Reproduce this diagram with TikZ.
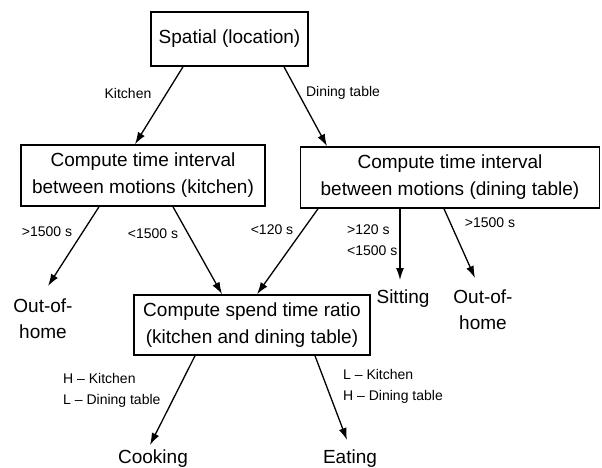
\documentclass[tikz,border=0pt]{standalone}
\usepackage{fontspec}
\setmainfont{Liberation Sans}
\usetikzlibrary{arrows.meta}
\begin{document}
\begin{tikzpicture}[x=1pt,y=-1pt,
  box/.style={draw,line width=1.6pt,align=center,font=\fontsize{19}{27}\selectfont,inner sep=0pt},
  arr/.style={line width=1.3pt,-{Latex[length=12pt,width=8pt]}},
  lbl/.style={font=\fontsize{14}{21}\selectfont,inner sep=0pt},
  res/.style={font=\fontsize{19}{26}\selectfont,inner sep=0pt,align=center,anchor=north}]
\useasboundingbox (0,0) rectangle (602,468);
% boxes
\node[box,minimum width=157pt,minimum height=54pt] (top) at (229.5,39) {Spatial (location)};
\node[box,minimum width=244pt,minimum height=61pt] (kit) at (143,175.5) {Compute time interval\\between motions (kitchen)};
\node[box,minimum width=299pt,minimum height=61pt] (din) at (450,177.5) {Compute time interval\\between motions (dining table)};
\node[box,minimum width=236pt,minimum height=60pt] (ratio) at (252,325) {Compute spend time ratio\\(kitchen and dining table)};
% results
\node[res] (out1) at (43,299) {Out-of-\\home};
\node[res] (sit) at (403,290) {Sitting};
\node[res] (out2) at (483,290) {Out-of-\\home};
\node[res] (cook) at (153,450) {Cooking};
\node[res] (eat) at (350,450) {Eating};
% labels
\node[lbl] (lk) at (128,93) {Kitchen};
\node[lbl] (ld) at (343,93) {Dining table};
\node[lbl] (l1) at (47,232) {>1500 s};
\node[lbl] (l2) at (153,234) {<1500 s};
\node[lbl] (l3) at (272,230) {<120 s};
\node[lbl,align=left,anchor=west] (l4) at (347,240.5) {>120 s\\<1500 s};
\node[lbl] (l5) at (490,223) {>1500 s};
\node[lbl,align=left,anchor=west] (l6) at (63,390) {H – Kitchen\\L – Dining table};
\node[lbl,align=left,anchor=west] (l7) at (343,386.5) {L – Kitchen\\H – Dining table};
% arrows
\draw[arr] ([xshift=-46.5pt]top.south) -- ([xshift=-8pt]kit.north);
\draw[arr] ([xshift=54.5pt]top.south) -- ([xshift=-123pt]din.north);
\draw[arr] ([xshift=-44pt]kit.south) -- ([xshift=5pt,yshift=13pt]out1.north);
\draw[arr] ([xshift=30pt]kit.south) -- ([xshift=-30pt]ratio.north);
\draw[arr] ([xshift=-132pt]din.south) -- ([xshift=5pt]ratio.north);
\draw[arr] ([xshift=-50pt]din.south) -- ([xshift=-3pt,yshift=10pt]sit.north);
\draw[arr] ([xshift=-6pt]din.south) -- ([xshift=-8pt,yshift=12pt]out2.north);
\draw[arr] ([xshift=-57pt]ratio.south) -- ([xshift=-3pt,yshift=5pt]cook.north);
\draw[arr] ([xshift=63pt]ratio.south) -- ([xshift=-3pt,yshift=10pt]eat.north);
\end{tikzpicture}
\end{document}
